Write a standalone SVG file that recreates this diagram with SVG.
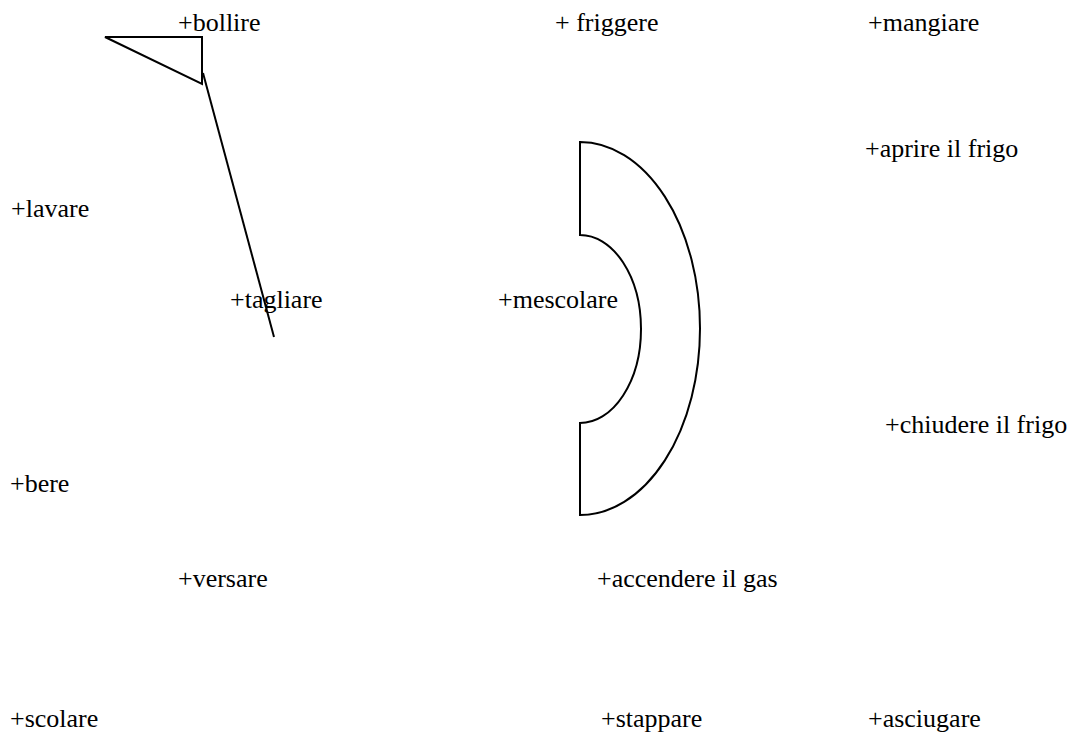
<svg xmlns="http://www.w3.org/2000/svg" width="1074" height="745" viewBox="0 0 1074 745">
<style>
text{font-family:"Liberation Serif","Times New Roman",serif;font-size:26px;fill:#000}
.s{fill:#fff;stroke:#000;stroke-width:2;stroke-linejoin:miter}
.l{fill:none;stroke:#000;stroke-width:2}
</style>
<rect width="1074" height="745" fill="#fff"/>
<g id="connectors">
<path class="l" d="M203,73 L274,337"/>
</g>
<g id="triangle"><path class="s" d="M105,37 L202,37 L202,84 Z"/></g>
<g id="arc-shape"><path class="s" d="M580,142 A120,186.5 0 0 1 580,515 L580,423 A61,94 0 0 0 580,235 Z"/></g>
<g id="n-bollire"><text x="178" y="31">+bollire</text></g>
<g id="n-friggere"><text x="555" y="31">+ friggere</text></g>
<g id="n-mangiare"><text x="868" y="31">+mangiare</text></g>
<g id="n-aprire"><text x="865" y="157">+aprire il frigo</text></g>
<g id="n-lavare"><text x="11" y="217">+lavare</text></g>
<g id="n-tagliare"><text x="230" y="308">+tagliare</text></g>
<g id="n-mescolare"><text x="498" y="308">+mescolare</text></g>
<g id="n-chiudere"><text x="885" y="433">+chiudere il frigo</text></g>
<g id="n-bere"><text x="10" y="492">+bere</text></g>
<g id="n-versare"><text x="178" y="587">+versare</text></g>
<g id="n-accendere"><text x="597" y="587">+accendere il gas</text></g>
<g id="n-scolare"><text x="10" y="727">+scolare</text></g>
<g id="n-stappare"><text x="601" y="727">+stappare</text></g>
<g id="n-asciugare"><text x="868" y="727">+asciugare</text></g>
</svg>
